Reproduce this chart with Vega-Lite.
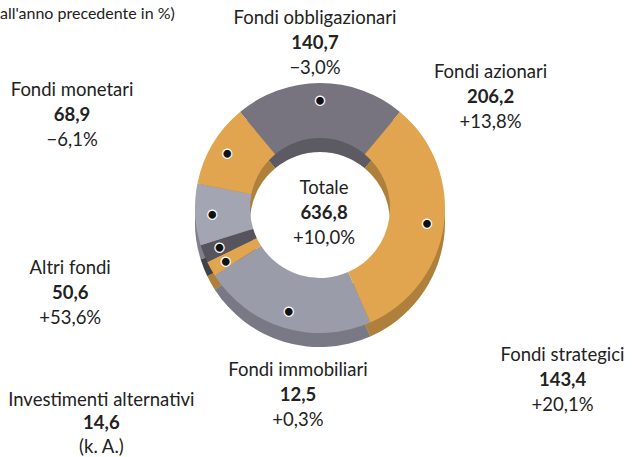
{
  "$schema": "https://vega.github.io/schema/vega-lite/v6.json",
  "width": 624,
  "height": 388,
  "autosize": "none",
  "padding": {"left": 8, "top": 14, "right": 0, "bottom": 55},
  "background": "#ffffff",
  "config": {
    "view": {"stroke": null},
    "locale": {"number": {"decimal": ",", "thousands": ".", "grouping": [3], "currency": ["", " €"]}},
    "text": {"font": "Lato", "fontSize": 18.5, "color": "#222222", "align": "center", "baseline": "middle"}
  },
  "datasets": {
    "funds": [
      {"cat": "Fondi obbligazionari", "value": 140.7, "change": "−3,0%", "ord": 1},
      {"cat": "Fondi azionari", "value": 206.2, "change": "+13,8%", "ord": 2},
      {"cat": "Fondi strategici", "value": 143.4, "change": "+20,1%", "ord": 3},
      {"cat": "Fondi immobiliari", "value": 12.5, "change": "+0,3%", "ord": 4},
      {"cat": "Investimenti alternativi", "value": 14.6, "change": "(k. A.)", "ord": 5},
      {"cat": "Altri fondi", "value": 50.6, "change": "+53,6%", "ord": 6},
      {"cat": "Fondi monetari", "value": 68.9, "change": "−6,1%", "ord": 7}
    ],
    "total": [{"label": "Totale", "value": 636.8, "change": "+10,0%"}],
    "note": [{"note": "all'anno precedente in %)"}]
  },
  "data": {"name": "funds"},
  "encoding": {
    "theta": {"field": "value", "type": "quantitative", "stack": true, "scale": {"range": [-0.6941, 5.5891]}},
    "order": {"field": "ord", "type": "quantitative"}
  },
  "layer": [
    {"mark": {"type": "arc", "outerRadius": 125, "innerRadius": 70, "yOffset": 14},
     "encoding": {"color": {"field": "cat", "type": "nominal", "legend": null,
       "scale": {"domain": ["Fondi obbligazionari", "Fondi azionari", "Fondi strategici", "Fondi immobiliari", "Investimenti alternativi", "Altri fondi", "Fondi monetari"],
                 "range": ["#77747f", "#e0a54e", "#9a9caa", "#e0a54e", "#57545d", "#a3a5b2", "#e0a54e"]}}}},
    {"mark": {"type": "arc", "outerRadius": 125, "innerRadius": 70, "yOffset": 14, "fill": "#000000", "opacity": 0.22}},
    {"mark": {"type": "arc", "outerRadius": 125, "innerRadius": 70},
     "encoding": {"color": {"field": "cat", "type": "nominal", "legend": null}}},
    {"mark": {"type": "text", "radius": 108, "fontSize": 12, "font": "DejaVu Sans", "fill": "#111111", "stroke": "#ffffff", "strokeWidth": 1.2},
     "encoding": {"text": {"value": "●"}}},

    {"mark": {"type": "text", "radius": 150, "dx": -5, "dy": -40}, "encoding": {"text": {"condition": {"test": "datum.cat === 'Fondi obbligazionari'", "field": "cat", "type": "nominal"}, "value": ""}}},
    {"mark": {"type": "text", "radius": 150, "dx": -5, "dy": -15, "fontWeight": "bold"}, "encoding": {"text": {"condition": {"test": "datum.cat === 'Fondi obbligazionari'", "field": "value", "type": "quantitative", "format": ".1f"}, "value": ""}}},
    {"mark": {"type": "text", "radius": 150, "dx": -5, "dy": 10}, "encoding": {"text": {"condition": {"test": "datum.cat === 'Fondi obbligazionari'", "field": "change", "type": "nominal"}, "value": ""}}},

    {"mark": {"type": "text", "radius": 150, "dx": 22, "dy": -157}, "encoding": {"text": {"condition": {"test": "datum.cat === 'Fondi azionari'", "field": "cat", "type": "nominal"}, "value": ""}}},
    {"mark": {"type": "text", "radius": 150, "dx": 22, "dy": -132, "fontWeight": "bold"}, "encoding": {"text": {"condition": {"test": "datum.cat === 'Fondi azionari'", "field": "value", "type": "quantitative", "format": ".1f"}, "value": ""}}},
    {"mark": {"type": "text", "radius": 150, "dx": 22, "dy": -107}, "encoding": {"text": {"condition": {"test": "datum.cat === 'Fondi azionari'", "field": "change", "type": "nominal"}, "value": ""}}},

    {"mark": {"type": "text", "radius": 150, "dx": 286, "dy": 3}, "encoding": {"text": {"condition": {"test": "datum.cat === 'Fondi strategici'", "field": "cat", "type": "nominal"}, "value": ""}}},
    {"mark": {"type": "text", "radius": 150, "dx": 286, "dy": 28, "fontWeight": "bold"}, "encoding": {"text": {"condition": {"test": "datum.cat === 'Fondi strategici'", "field": "value", "type": "quantitative", "format": ".1f"}, "value": ""}}},
    {"mark": {"type": "text", "radius": 150, "dx": 286, "dy": 53}, "encoding": {"text": {"condition": {"test": "datum.cat === 'Fondi strategici'", "field": "change", "type": "nominal"}, "value": ""}}},

    {"mark": {"type": "text", "radius": 150, "dx": 109, "dy": 89}, "encoding": {"text": {"condition": {"test": "datum.cat === 'Fondi immobiliari'", "field": "cat", "type": "nominal"}, "value": ""}}},
    {"mark": {"type": "text", "radius": 150, "dx": 109, "dy": 114, "fontWeight": "bold"}, "encoding": {"text": {"condition": {"test": "datum.cat === 'Fondi immobiliari'", "field": "value", "type": "quantitative", "format": ".1f"}, "value": ""}}},
    {"mark": {"type": "text", "radius": 150, "dx": 109, "dy": 139}, "encoding": {"text": {"condition": {"test": "datum.cat === 'Fondi immobiliari'", "field": "change", "type": "nominal"}, "value": ""}}},

    {"mark": {"type": "text", "radius": 150, "dx": -79, "dy": 137}, "encoding": {"text": {"condition": {"test": "datum.cat === 'Investimenti alternativi'", "field": "cat", "type": "nominal"}, "value": ""}}},
    {"mark": {"type": "text", "radius": 150, "dx": -79, "dy": 160, "fontWeight": "bold"}, "encoding": {"text": {"condition": {"test": "datum.cat === 'Investimenti alternativi'", "field": "value", "type": "quantitative", "format": ".1f"}, "value": ""}}},
    {"mark": {"type": "text", "radius": 150, "dx": -79, "dy": 184}, "encoding": {"text": {"condition": {"test": "datum.cat === 'Investimenti alternativi'", "field": "change", "type": "nominal"}, "value": ""}}},

    {"mark": {"type": "text", "radius": 150, "dx": -100, "dy": 52}, "encoding": {"text": {"condition": {"test": "datum.cat === 'Altri fondi'", "field": "cat", "type": "nominal"}, "value": ""}}},
    {"mark": {"type": "text", "radius": 150, "dx": -100, "dy": 77, "fontWeight": "bold"}, "encoding": {"text": {"condition": {"test": "datum.cat === 'Altri fondi'", "field": "value", "type": "quantitative", "format": ".1f"}, "value": ""}}},
    {"mark": {"type": "text", "radius": 150, "dx": -100, "dy": 102}, "encoding": {"text": {"condition": {"test": "datum.cat === 'Altri fondi'", "field": "change", "type": "nominal"}, "value": ""}}},

    {"mark": {"type": "text", "radius": 150, "dx": -119, "dy": -41}, "encoding": {"text": {"condition": {"test": "datum.cat === 'Fondi monetari'", "field": "cat", "type": "nominal"}, "value": ""}}},
    {"mark": {"type": "text", "radius": 150, "dx": -119, "dy": -16, "fontWeight": "bold"}, "encoding": {"text": {"condition": {"test": "datum.cat === 'Fondi monetari'", "field": "value", "type": "quantitative", "format": ".1f"}, "value": ""}}},
    {"mark": {"type": "text", "radius": 150, "dx": -119, "dy": 9}, "encoding": {"text": {"condition": {"test": "datum.cat === 'Fondi monetari'", "field": "change", "type": "nominal"}, "value": ""}}},

    {"data": {"name": "total"}, "mark": {"type": "text", "dx": 4, "dy": -20}, "encoding": {"theta": null, "order": null, "text": {"field": "label", "type": "nominal"}}},
    {"data": {"name": "total"}, "mark": {"type": "text", "dx": 4, "dy": 5, "fontWeight": "bold"}, "encoding": {"theta": null, "order": null, "text": {"field": "value", "type": "quantitative", "format": ".1f"}}},
    {"data": {"name": "total"}, "mark": {"type": "text", "dx": 4, "dy": 30}, "encoding": {"theta": null, "order": null, "text": {"field": "change", "type": "nominal"}}},

    {"data": {"name": "note"}, "mark": {"type": "text", "align": "left", "baseline": "alphabetic", "fontSize": 16, "dx": -320, "dy": -189}, "encoding": {"theta": null, "order": null, "text": {"field": "note", "type": "nominal"}}}
  ]
}
